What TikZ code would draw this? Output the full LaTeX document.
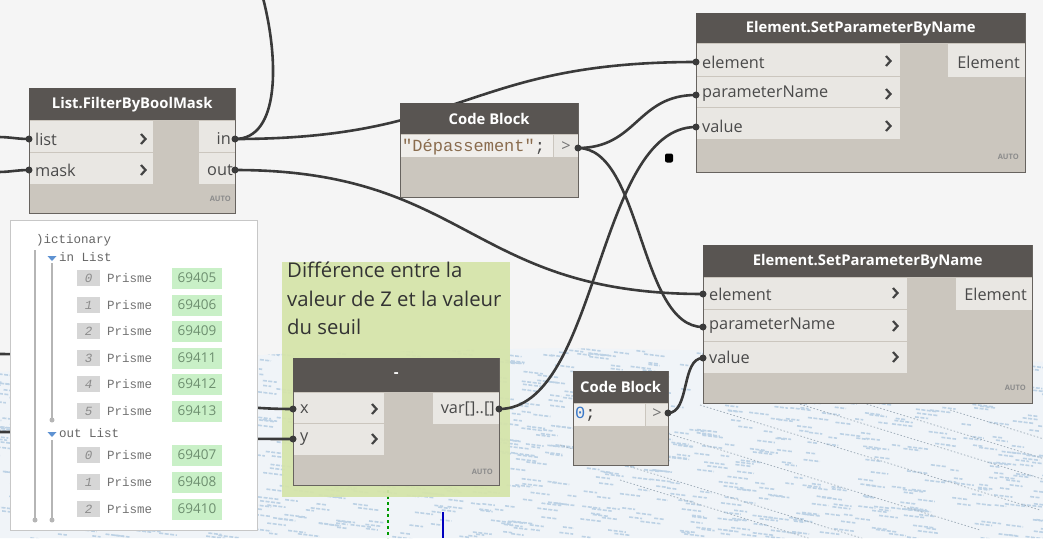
\documentclass[tikz,border=0pt]{standalone}
\usepackage{fontspec}
\setmainfont{Open Sans}
\setmonofont{Liberation Mono}
\definecolor{bgc}{HTML}{F5F5F5}
\definecolor{hdrc}{HTML}{595552}
\definecolor{bodyc}{HTML}{CBC6BE}
\definecolor{rowc}{HTML}{E9E7E3}
\definecolor{bordc}{HTML}{67635F}
\definecolor{txtc}{HTML}{4A4A4A}
\definecolor{wirec}{HTML}{3A3A3A}
\definecolor{grpc}{HTML}{D5E4A9}
\definecolor{pattc}{HTML}{BDD2E5}
\definecolor{pattbg}{HTML}{F0F4F8}
\definecolor{pattd}{HTML}{A3B0BC}
\definecolor{numbg}{HTML}{C9F0C7}
\definecolor{numtx}{HTML}{6E8F70}
\definecolor{idxbg}{HTML}{D6D6D6}
\definecolor{idxtx}{HTML}{8C8C8C}
\definecolor{strc}{HTML}{8A6C4E}
\definecolor{numc}{HTML}{3A78C8}
\definecolor{treec}{HTML}{B5B5B5}
\definecolor{tric}{HTML}{5E92D2}
\newcommand{\dynRow}{\fontsize{16.3}{19}\selectfont}
\newcommand{\dynHead}{\fontsize{14.8}{17}\selectfont\bfseries}
\newcommand{\dynAuto}{\fontsize{7.5}{9}\selectfont\bfseries}
\newcommand{\dynCode}{\fontsize{17}{19}\selectfont\ttfamily}
\newcommand{\dynMono}{\fontsize{12.5}{15}\selectfont\ttfamily}
\newcommand{\dynNum}{\fontsize{13.5}{15}\selectfont}
\newcommand{\dynGroup}{\fontsize{20.3}{28.5}\selectfont}
\begin{document}
\begin{tikzpicture}[x=1pt,y=-1pt,
  box/.style={draw=bordc, line width=0.8pt, fill=bodyc, anchor=north west, inner sep=0},
  hdr/.style={fill=hdrc, anchor=north west, inner sep=0, text=white, font=\dynHead},
  rowbox/.style={fill=rowc, anchor=north west, inner sep=0},
  lbl/.style={font=\dynRow, text=txtc, anchor=west, inner sep=0},
  rlbl/.style={font=\dynRow, text=txtc, anchor=east, inner sep=0},
  autol/.style={font=\dynAuto, text=black!45, anchor=east, inner sep=0},
  chev/.style={draw=txtc!90!black, line width=2.2pt},
  wire/.style={draw=wirec, line width=2.6pt},
  port/.style={circle, fill=wirec, inner sep=0, minimum size=7pt},
  patt/.style={draw=pattc, line width=1.6pt, dash pattern=on 4pt off 1.5pt},
  pattdk/.style={draw=pattd, line width=0.8pt, dash pattern=on 1.5pt off 2pt},
  idx/.style={fill=idxbg, text=idxtx, font=\dynMono\itshape, minimum width=23, minimum height=16, inner sep=0},
  pris/.style={font=\dynMono, text=black!55, anchor=west, inner sep=0},
  numb/.style={fill=numbg, text=numtx, font=\dynNum, minimum width=50, minimum height=21, inner sep=0},
  tree/.style={draw=treec, line width=1.4pt},
  dot/.style={circle, fill=treec, inner sep=0, minimum size=5pt}
]
\useasboundingbox (0,0) rectangle (1043,538);
\fill[bgc] (0,0) rectangle (1043,538);
% ---------- background preview texture
\fill[pattbg] (0,372) -- (280,354) -- (560,348) -- (800,352) -- (1043,362) -- (1043,538) -- (0,538) -- cycle;
\pgfmathsetseed{3}
\begin{scope}
\clip (0,372) -- (280,354) -- (560,348) -- (800,352) -- (1043,362) -- (1043,538) -- (0,538) -- cycle;
\foreach \i in {1,...,1100}{
  \pgfmathsetmacro{\px}{rnd*1080-20}
  \pgfmathsetmacro{\py}{344+rnd*198}
  \pgfmathsetmacro{\pl}{8+rnd*14}
  \draw[patt] (\px,\py) -- ++(\pl,0.12*\pl);
}
\foreach \sx/\sy in {700/405,780/398,860/402,640/425,560/445,950/410,620/480}{
  \draw[pattdk] (\sx,\sy) -- ++(340,105);
}
\end{scope}
\draw[draw=green!60!black, line width=1.2pt, dashed] (388,490) -- (388,538);
\draw[draw=blue!75!black, line width=2pt] (443,512) -- (443,538);
% ---------- group
\node[fill=grpc, opacity=0.93, anchor=north west, minimum width=228, minimum height=235, inner sep=0] (grp) at (282,262) {};
\node[anchor=north west, align=left, font=\dynGroup, text=black!80, inner sep=0] (grpt) at (287,262) {Différence entre la\\valeur de Z et la valeur\\du seuil};
% ---------- port coordinates
\coordinate (fbL1) at (29,139);  \coordinate (fbL2) at (29,170);
\coordinate (fbO1) at (235,139); \coordinate (fbO2) at (235,170);
\coordinate (cb1O) at (578,148);
\coordinate (sp1I1) at (696,62); \coordinate (sp1I2) at (696,95); \coordinate (sp1I3) at (696,127);
\coordinate (sp2I1) at (703,294); \coordinate (sp2I2) at (703,327); \coordinate (sp2I3) at (703,358);
\coordinate (cb2O) at (668,413);
\coordinate (mnI1) at (293,409); \coordinate (mnI2) at (293,439); \coordinate (mnO) at (499,409);
\coordinate (eL1) at (-2,137); \coordinate (eL2) at (-2,172);
\coordinate (eTop) at (263,-2);
\coordinate (eX) at (-2,354); \coordinate (eY) at (-2,432);
% ---------- wires
\draw[wire] (eL1) .. controls +(12,0) and +(-12,0) .. (fbL1);
\draw[wire] (eL2) .. controls +(12,0) and +(-12,0) .. (fbL2);
\draw[wire] (fbO1) .. controls +(45,0) and +(16,62) .. (eTop);
\draw[wire] (fbO1) .. controls +(230,0) and +(-230,0) .. (sp1I1);
\draw[wire] (fbO2) .. controls +(234,0) and +(-234,0) .. (sp2I1);
\draw[wire] (cb1O) .. controls +(59,0) and +(-59,0) .. (sp1I2);
\draw[wire] (cb1O) .. controls +(64,0) and +(-64,0) .. (sp2I2);
\draw[wire] (mnO) .. controls +(100,0) and +(-100,0) .. (sp1I3);
\draw[wire] (cb2O) .. controls +(22,0) and +(-22,0) .. (sp2I3);
\draw[wire] (eX) .. controls +(148,0) and +(-148,0) .. (mnI1);
\draw[wire] (eY) .. controls +(148,0) and +(-148,0) .. (mnI2);
% ---------- List.FilterByBoolMask
\node[box, minimum width=206, minimum height=125] (fb) at (29,88) {};
\node[hdr, minimum width=206, minimum height=32] (fbh) at (29,88) {List.FilterByBoolMask};
\node[rowbox, minimum width=123, minimum height=31] (fbr1) at (29.4,120.5) {};
\node[rowbox, minimum width=123, minimum height=31] (fbr2) at (29.4,152.5) {};
\node[rowbox, minimum width=35.6, minimum height=31] (fbo1) at (199,120.5) {};
\node[rowbox, minimum width=35.6, minimum height=31] (fbo2) at (199,152.5) {};
\node[lbl] (fbt1) at (35,139) {list};
\node[lbl] (fbt2) at (35,170) {mask};
\draw[chev] (141,134) -- (145.5,139) -- (141,144);
\draw[chev] (141,165) -- (145.5,170) -- (141,175);
\node[rlbl] (fbt3) at (231,139) {in};
\node[rlbl] (fbt4) at (233,170) {out};
\node[autol] (fba) at (231,199) {AUTO};
% ---------- Code Block (string)
\node[box, minimum width=178, minimum height=94] (cb1) at (400,103) {};
\node[hdr, minimum width=178, minimum height=31] (cb1h) at (400,103) {Code Block};
\node[rowbox, fill=rowc!70!white, minimum width=152, minimum height=22] (cb1r) at (400.4,135) {};
\node[rowbox, minimum width=23.4, minimum height=22] (cb1c) at (554.2,135) {};
\node[anchor=west, inner sep=0, font=\dynCode, text=strc] (cb1t) at (402,147) {"Dépassement"\textcolor{black!70}{;}};
\node[anchor=center, inner sep=0, font=\dynRow, text=black!55] (cb1g) at (566,147) {>};
% ---------- Element.SetParameterByName (top)
\node[box, minimum width=329, minimum height=159] (sp1) at (696,13) {};
\node[hdr, minimum width=329, minimum height=30] (sp1h) at (696,13) {Element.SetParameterByName};
\node[rowbox, minimum width=203.6, minimum height=32] (sp1r1) at (696.4,43.5) {};
\node[rowbox, minimum width=203.6, minimum height=30.5] (sp1r2) at (696.4,76.5) {};
\node[rowbox, minimum width=203.6, minimum height=30.5] (sp1r3) at (696.4,108) {};
\node[rowbox, minimum width=76.6, minimum height=33] (sp1o) at (948,43.5) {};
\node[lbl] (sp1t1) at (702,62) {element};
\node[lbl] (sp1t2) at (702,94) {parameterName};
\node[lbl] (sp1t3) at (702,126) {value};
\draw[chev] (886,56) -- (890.5,61) -- (886,66);
\draw[chev] (886,89) -- (890.5,94) -- (886,99);
\draw[chev] (886,121) -- (890.5,126) -- (886,131);
\node[rlbl] (sp1t4) at (1020,62) {Element};
\node[autol] (sp1a) at (1019,157) {AUTO};
% ---------- Element.SetParameterByName (bottom)
\node[box, minimum width=329, minimum height=158] (sp2) at (703,245) {};
\node[hdr, minimum width=329, minimum height=32] (sp2h) at (703,245) {Element.SetParameterByName};
\node[rowbox, minimum width=203.6, minimum height=31.5] (sp2r1) at (703.4,277.5) {};
\node[rowbox, minimum width=203.6, minimum height=31] (sp2r2) at (703.4,310) {};
\node[rowbox, minimum width=203.6, minimum height=31] (sp2r3) at (703.4,342) {};
\node[rowbox, minimum width=75.6, minimum height=32] (sp2o) at (956,277.5) {};
\node[lbl] (sp2t1) at (709,294) {element};
\node[lbl] (sp2t2) at (709,326) {parameterName};
\node[lbl] (sp2t3) at (709,357) {value};
\draw[chev] (893,288) -- (897.5,293) -- (893,298);
\draw[chev] (893,321) -- (897.5,326) -- (893,331);
\draw[chev] (893,352) -- (897.5,357) -- (893,362);
\node[rlbl] (sp2t4) at (1027,294) {Element};
\node[autol] (sp2a) at (1026,388) {AUTO};
% ---------- Code Block (0)
\node[box, minimum width=95, minimum height=94] (cb2) at (573,371) {};
\node[hdr, minimum width=95, minimum height=32] (cb2h) at (573,371) {Code Block};
\node[rowbox, fill=rowc!70!white, minimum width=71, minimum height=22] (cb2r) at (573.4,403.5) {};
\node[rowbox, minimum width=21.6, minimum height=22] (cb2c) at (646,403.5) {};
\node[anchor=west, inner sep=0, font=\dynCode, text=numc] (cb2t) at (575,414) {0\textcolor{black!75}{;}};
\node[anchor=center, inner sep=0, font=\dynRow, text=black!55] (cb2g) at (657,414) {>};
% ---------- minus node
\node[box, minimum width=206, minimum height=127] (mn) at (293,358) {};
\node[hdr, minimum width=206, minimum height=34] (mnh) at (293,358) {-};
\node[rowbox, minimum width=90, minimum height=30.5] (mnr1) at (293.4,392.5) {};
\node[rowbox, minimum width=90, minimum height=30.5] (mnr2) at (293.4,424) {};
\node[rowbox, minimum width=65.6, minimum height=31] (mno) at (433,392.5) {};
\node[lbl] (mnt1) at (300,409) {x};
\node[lbl] (mnt2) at (300,439) {y};
\draw[chev] (372,404) -- (376.5,409) -- (372,414);
\draw[chev] (372,434) -- (376.5,439) -- (372,444);
\node[rlbl] (mnt3) at (495,409) {var[]..[]};
\node[autol] (mna) at (493,472) {AUTO};
% ---------- port nubs
\foreach \p in {fbL1,fbL2,fbO1,fbO2,cb1O,sp1I1,sp1I2,sp1I3,sp2I1,sp2I2,sp2I3,cb2O,mnI1,mnI2,mnO}{
  \node[port] (n\p) at (\p) {};
}
\node[fill=black, rounded corners=2pt, minimum width=8, minimum height=9, inner sep=0] (blob) at (669,158) {};
% ---------- watch panel
\node[draw=black!22, line width=1pt, fill=white, anchor=north west, minimum width=247, minimum height=310, inner sep=0] (dict) at (10,220) {};
\node[pris, text=black!60] (dtitle) at (36,240) {)ictionary};
\draw[tree] (35,250) -- (35,520);
\node[dot] (d1) at (35,520) {};
\draw[tree] (52,263) -- (52,420);
\node[dot] (d2) at (52,420) {};
\draw[tree] (52,440) -- (52,520);
\node[dot] (d3) at (52,520) {};
\fill[tric] (47.5,256) -- (56.5,256) -- (52,261) -- cycle;
\fill[tric] (47.5,432) -- (56.5,432) -- (52,437) -- cycle;
\node[pris, text=black!60] (inl) at (59,257) {in List};
\node[pris, text=black!60] (outl) at (59,433) {out List};
\foreach \k/\n/\yy in {0/69405/278,1/69406/305,2/69409/331,3/69411/358,4/69412/384,5/69413/411}{
  \node[idx] (ia\k) at (88.5,\yy) {\k};
  \node[pris] (pa\k) at (107,\yy) {Prisme};
  \node[numb] (na\k) at (197,\yy) {\n};
}
\foreach \k/\n/\yy in {0/69407/455,1/69408/482,2/69410/509}{
  \node[idx] (ib\k) at (88.5,\yy) {\k};
  \node[pris] (pb\k) at (107,\yy) {Prisme};
  \node[numb] (nb\k) at (197,\yy) {\n};
}
\end{tikzpicture}
\end{document}
